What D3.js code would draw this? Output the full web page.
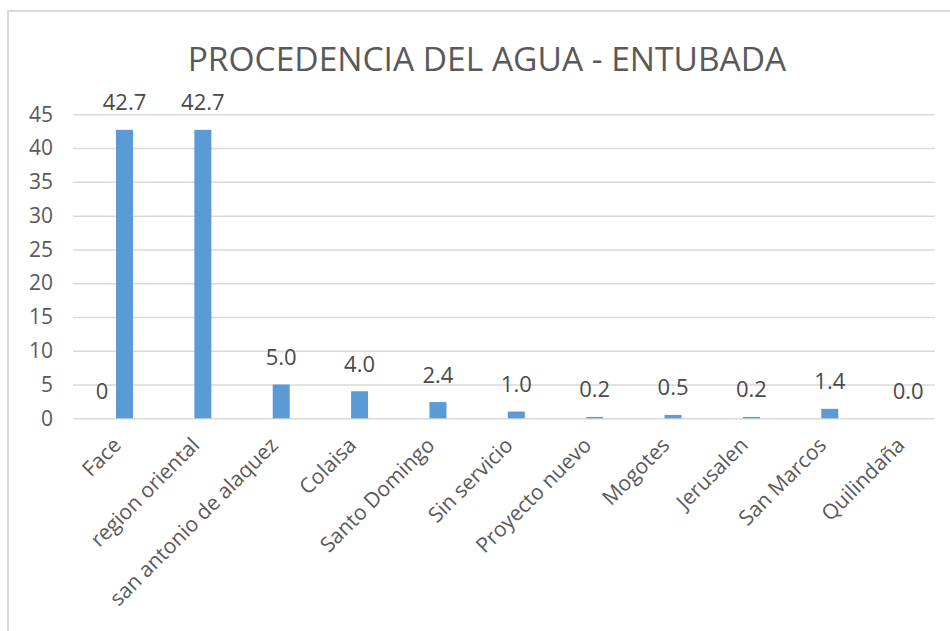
<!DOCTYPE html>
<html>
<head>
<meta charset="utf-8">
<script src="https://cdn.jsdelivr.net/npm/d3@7"></script>
<style>
  html, body { margin: 0; padding: 0; background: #fff; }
  svg { display: block; }
</style>
</head>
<body>
<svg id="chart" width="950" height="631"></svg>
<script>
// Water source categories and their shares (%)
const categories = [
  "Face", "region oriental", "san antonio de alaquez", "Colaisa",
  "Santo Domingo", "Sin servicio", "Proyecto nuevo", "Mogotes",
  "Jerusalen", "San Marcos", "Quilindaña"
];
// first series only carries a value for Face
const seriesA = [0, null, null, null, null, null, null, null, null, null, null];
const seriesB = [42.7, 42.7, 5.0, 4.0, 2.4, 1.0, 0.2, 0.5, 0.2, 1.4, 0.0];
const seriesAFormat = d => d3.format("d")(d);
const seriesBFormat = d => d3.format(".1f")(d);
const yTicks = [0, 5, 10, 15, 20, 25, 30, 35, 40, 45];
const title = "PROCEDENCIA DEL AGUA - ENTUBADA";

const svg = d3.select("#chart");
const W = 950, H = 631;
const font = "'Open Sans', 'Liberation Sans', sans-serif";

// chart frame
svg.append("rect")
  .attr("x", 8).attr("y", 11)
  .attr("width", W).attr("height", H)
  .attr("fill", "#fff")
  .attr("stroke", "#d9d9d9").attr("stroke-width", 2);

const plot = { left: 73, right: 935, top: 114.3, bottom: 418.3 };

const x = d3.scaleBand()
  .domain(categories)
  .range([plot.left, plot.right])
  .paddingInner(0).paddingOuter(0);

const inner = d3.scaleBand()
  .domain(["A", "B"])
  .range([20.5, 60])
  .paddingInner(0.244).paddingOuter(0);

const y = d3.scaleLinear()
  .domain([0, 45])
  .range([plot.bottom, plot.top]);

// title
svg.append("text")
  .attr("x", 487).attr("y", 71)
  .attr("text-anchor", "middle")
  .attr("font-family", font)
  .attr("font-size", 33.5)
  .attr("fill", "#595959")
  .text(title);

// gridlines + y axis labels
const yAxis = d3.axisLeft(y)
  .tickValues(yTicks)
  .tickSize(-(plot.right - plot.left))
  .tickPadding(20)
  .tickFormat(d3.format("d"));

const gy = svg.append("g")
  .attr("transform", `translate(${plot.left},0)`)
  .call(yAxis);
gy.select(".domain").remove();
gy.selectAll(".tick line")
  .attr("stroke", "#d9d9d9").attr("stroke-width", 1.5);
gy.selectAll(".tick text")
  .attr("font-family", font)
  .attr("font-size", 21)
  .attr("fill", "#595959");

// bars of the main series
const rows = categories.map((c, i) => ({ c, a: seriesA[i], b: seriesB[i] }));

svg.append("g").selectAll("rect")
  .data(rows)
  .join("rect")
  .attr("x", d => x(d.c) + inner("B"))
  .attr("width", inner.bandwidth())
  .attr("y", d => y(d.b))
  .attr("height", d => y(0) - y(d.b))
  .attr("fill", "#5b9bd5");

// value labels
const labels = svg.append("g")
  .attr("font-family", font)
  .attr("font-size", 22)
  .attr("fill", "#4a4a4a")
  .attr("text-anchor", "middle");

labels.selectAll("text.b")
  .data(rows)
  .join("text")
  .attr("class", "b")
  .attr("x", d => x(d.c) + inner("B") + inner.bandwidth() / 2)
  .attr("y", d => y(d.b) - 19.5)
  .text(d => seriesBFormat(d.b));

labels.selectAll("text.a")
  .data(rows.filter(d => d.a !== null))
  .join("text")
  .attr("class", "a")
  .attr("x", d => x(d.c) + inner("A") + inner.bandwidth() / 2)
  .attr("y", d => y(d.a) - 19.5)
  .text(d => seriesAFormat(d.a));

// category axis labels, rotated
svg.append("g").selectAll("text")
  .data(categories)
  .join("text")
  .attr("transform", c => `translate(${x(c) + x.bandwidth() / 2 + 5},${plot.bottom + 23}) rotate(-45)`)
  .attr("text-anchor", "end")
  .attr("dy", "0.35em")
  .attr("font-family", font)
  .attr("font-size", 21)
  .attr("fill", "#595959")
  .text(c => c);
</script>
</body>
</html>
